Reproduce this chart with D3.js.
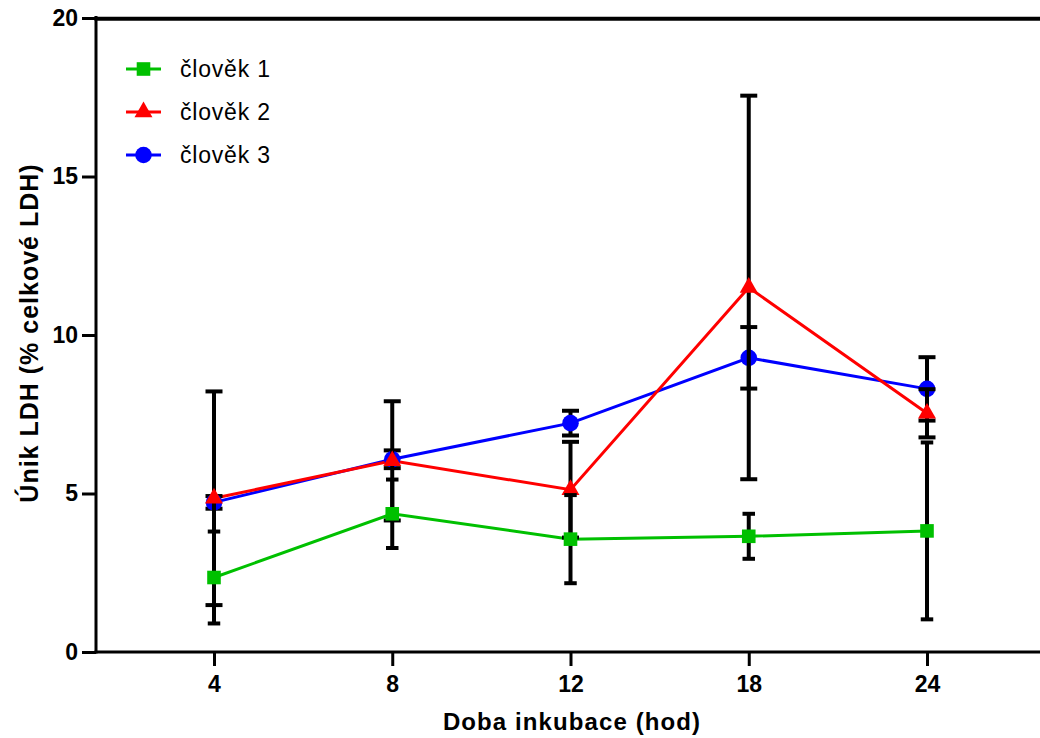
<!DOCTYPE html>
<html>
<head>
<meta charset="utf-8">
<script src="https://cdn.jsdelivr.net/npm/d3@7"></script>
<style>
  html, body { margin: 0; padding: 0; background: #fff; }
  svg { display: block; }
  text { font-family: "Liberation Sans", Arial, Helvetica, sans-serif; fill: #000; }
</style>
</head>
<body>
<svg id="chart" width="1040" height="738"></svg>
<script>
// ---- data ----
const categories = ["4", "8", "12", "18", "24"];
const seriesNames = ["člověk 1", "člověk 2", "člověk 3"];
const seriesColors = ["#00C000", "#FF0000", "#0000FF"];
const mean1 = [2.35, 4.36, 3.56, 3.65, 3.82];
const sd1   = [1.45, 1.08, 1.39, 0.71, 2.79];
const mean2 = [4.85, 6.03, 5.12, 11.50, 7.53];
const sd2   = [3.37, 1.88, 1.51, 6.05, 0.76];
const mean3 = [4.72, 6.08, 7.22, 9.28, 8.30];
const sd3   = [0.20, 0.28, 0.39, 0.97, 1.00];
const yTicks = [0, 5, 10, 15, 20];
const xTitle = "Doba inkubace (hod)";
const yTitle = "Únik LDH (% celkové LDH)";

const series = [
  { name: seriesNames[0], color: seriesColors[0], mean: mean1, sd: sd1, symbol: d3.symbolSquare, size: 185, cap: 12.5 },
  { name: seriesNames[1], color: seriesColors[1], mean: mean2, sd: sd2, symbol: d3.symbolTriangle, size: 140, cap: 17 },
  { name: seriesNames[2], color: seriesColors[2], mean: mean3, sd: sd3, symbol: d3.symbolCircle, size: 216, cap: 17 }
];

const svg = d3.select("#chart");
const x = d3.scalePoint().domain(categories).range([214, 927]);
const y = d3.scaleLinear().domain([0, 20]).range([652, 18]);
const left = 96, right = 1040;

// ---- axes ----
const yAxis = svg.append("g").attr("transform", `translate(${left},0)`)
  .call(d3.axisLeft(y).tickValues(yTicks).tickSize(14).tickSizeOuter(0).tickPadding(4));
yAxis.select(".domain").remove();
yAxis.selectAll(".tick line").attr("stroke", "#000").attr("stroke-width", 3);
yAxis.selectAll(".tick text").attr("font-size", 23).attr("font-weight", "bold")
  .attr("font-family", "Liberation Sans, Arial, sans-serif").attr("fill", "#000");

const xAxis = svg.append("g").attr("transform", `translate(0,${y(0)})`)
  .call(d3.axisBottom(x).tickSize(14).tickSizeOuter(0).tickPadding(10));
xAxis.select(".domain").remove();
xAxis.selectAll(".tick line").attr("stroke", "#000").attr("stroke-width", 3);
xAxis.selectAll(".tick text").attr("font-size", 23).attr("font-weight", "bold")
  .attr("font-family", "Liberation Sans, Arial, sans-serif").attr("fill", "#000");

// frame lines
svg.append("line").attr("x1", left).attr("x2", left).attr("y1", y(20) - 2).attr("y2", y(0) + 1.5)
  .attr("stroke", "#000").attr("stroke-width", 3);
svg.append("line").attr("x1", left - 1.5).attr("x2", right).attr("y1", y(0)).attr("y2", y(0))
  .attr("stroke", "#000").attr("stroke-width", 3);
svg.append("line").attr("x1", left - 1.5).attr("x2", right).attr("y1", y(20) + 0.7).attr("y2", y(20) + 0.7)
  .attr("stroke", "#000").attr("stroke-width", 4);

// titles
svg.append("text").attr("x", 572).attr("y", 730).attr("text-anchor", "middle")
  .attr("font-size", 24).attr("font-weight", "bold").attr("letter-spacing", "1.1px").text(xTitle);
svg.append("text").attr("transform", "translate(38,333) rotate(-90)").attr("text-anchor", "middle")
  .attr("font-size", 25).attr("font-weight", "bold").attr("letter-spacing", "1px").text(yTitle);

// ---- lines ----
const lineGen = d3.line().x((d, i) => x(categories[i])).y(d => y(d));
[series[2], series[1], series[0]].forEach(s => {
  svg.append("path").datum(s.mean).attr("d", lineGen)
    .attr("fill", "none").attr("stroke", s.color).attr("stroke-width", 3);
});

// ---- error bars + markers (blue, red, green) ----
[series[2], series[1], series[0]].forEach(s => {
  const g = svg.append("g");
  s.mean.forEach((m, i) => {
    const cx = x(categories[i]);
    const hi = y(m + s.sd[i]), lo = y(m - s.sd[i]);
    g.append("line").attr("x1", cx).attr("x2", cx).attr("y1", hi).attr("y2", lo)
      .attr("stroke", "#000").attr("stroke-width", 4);
    [hi, lo].forEach(cy => {
      g.append("line").attr("x1", cx - s.cap / 2).attr("x2", cx + s.cap / 2)
        .attr("y1", cy).attr("y2", cy).attr("stroke", "#000").attr("stroke-width", 4);
    });
  });
  g.selectAll("path.mk").data(s.mean).enter().append("path")
    .attr("class", "mk")
    .attr("d", d3.symbol().type(s.symbol).size(s.size))
    .attr("transform", (d, i) => `translate(${x(categories[i])},${y(d)})`)
    .attr("fill", s.color);
});

// ---- legend ----
series.forEach((s, i) => {
  const ly = 69 + 43 * i;
  const g = svg.append("g");
  g.append("line").attr("x1", 126).attr("x2", 161).attr("y1", ly).attr("y2", ly)
    .attr("stroke", s.color).attr("stroke-width", 3);
  g.append("path").attr("d", d3.symbol().type(s.symbol).size(s.size))
    .attr("transform", `translate(143.5,${ly})`).attr("fill", s.color);
  g.append("text").attr("x", 180).attr("y", ly + 8).attr("font-size", 23)
    .attr("letter-spacing", "0.8px").text(s.name);
});
</script>
</body>
</html>
